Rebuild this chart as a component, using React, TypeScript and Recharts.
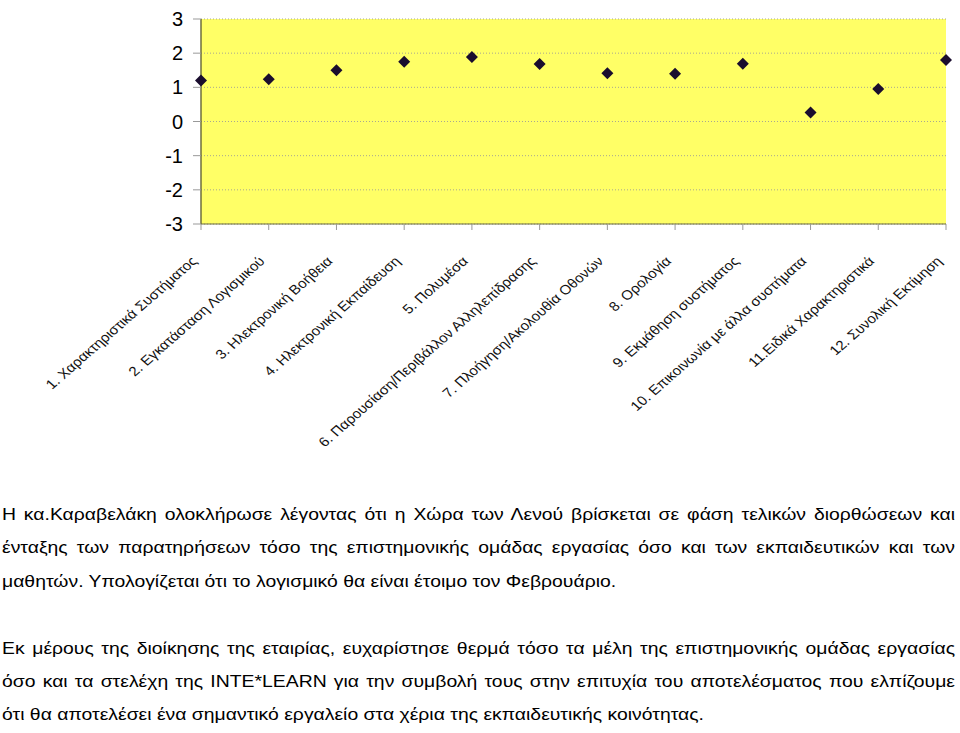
import { LineChart, Line, XAxis, YAxis, CartesianGrid, ReferenceArea } from "recharts";

const categories = [
  "1. Χαρακτηριστικά Συστήματος",
  "2. Εγκατάσταση Λογισμικού",
  "3. Ηλεκτρονική Βοήθεια",
  "4. Ηλεκτρονική Εκπαίδευση",
  "5. Πολυμέσα",
  "6. Παρουσίαση/Περιβάλλον Αλληλεπίδρασης",
  "7. Πλοήγηση/Ακολουθία Οθονών",
  "8. Ορολογία",
  "9. Εκμάθηση συστήματος",
  "10. Επικοινωνία με άλλα συστήματα",
  "11.Ειδικά Χαρακτηριστικά",
  "12. Συνολική Εκτίμηση",
];
const scores = [1.2, 1.24, 1.5, 1.75, 1.89, 1.68, 1.41, 1.4, 1.69, 0.26, 0.95, 1.8];
const yTicks = [-3, -2, -1, 0, 1, 2, 3];

const textLines = [
  "Η κα.Καραβελάκη ολοκλήρωσε λέγοντας ότι η  Χώρα των Λενού βρίσκεται σε φάση τελικών διορθώσεων και",
  "ένταξης των παρατηρήσεων τόσο της επιστημονικής ομάδας εργασίας όσο και των εκπαιδευτικών και των",
  "μαθητών. Υπολογίζεται ότι το λογισμικό θα είναι έτοιμο τον Φεβρουάριο.",
  "",
  "Εκ μέρους της διοίκησης της εταιρίας, ευχαρίστησε θερμά τόσο τα μέλη της επιστημονικής ομάδας εργασίας",
  "όσο και τα στελέχη της INTE*LEARN για την συμβολή τους στην επιτυχία του αποτελέσματος που ελπίζουμε",
  "ότι θα αποτελέσει ένα σημαντικό εργαλείο στα χέρια της εκπαιδευτικής κοινότητας.",
];
// lines that end a paragraph are left ragged
const lastLines = [2, 3, 6];

const data = categories.map((name, i) => ({ name, score: scores[i] }));

const FONT = "'Liberation Sans', Arial, sans-serif";
// the whole picture looks a bit stretched sideways
const STRETCH = 1.14;

function Diamond(props: any) {
  const { cx, cy } = props;
  if (cx == null || cy == null) return null;
  const r = 6;
  return <path d={`M${cx},${cy - r}L${cx + r},${cy}L${cx},${cy + r}L${cx - r},${cy}Z`} fill="#1a0d2e" />;
}

function CategoryTick({ x, y, payload }: any) {
  return (
    <g transform={`translate(${x - 3},${y + 30}) scale(${STRETCH},1) rotate(-45)`}>
      <text textAnchor="end" fontSize={13.3} fill="#111" fontFamily={FONT}>
        {payload.value}
      </text>
    </g>
  );
}

export default function App() {
  return (
    <div style={{ position: "absolute", left: 0, top: 0, width: 960, height: 733, fontFamily: FONT, background: "#fff" }}>
      <LineChart width={960} height={470} data={data} margin={{ top: 19, right: 14, left: 0, bottom: 0 }}>
        <CartesianGrid vertical={false} fill="#FFFF66" fillOpacity={1} stroke="#a8a890" strokeDasharray="1 2" />
        <XAxis
          dataKey="name"
          interval={0}
          height={246}
          tickSize={6}
          tickLine={{ stroke: "#999" }}
          axisLine={{ stroke: "#6e6e3c" }}
          tick={<CategoryTick />}
        />
        <YAxis
          width={201}
          domain={[-3, 3]}
          ticks={yTicks}
          interval={0}
          tickSize={8}
          tickMargin={10}
          tickLine={{ stroke: "#999" }}
          axisLine={{ stroke: "#6e6e3c", strokeWidth: 1.5 }}
          tick={{ fontSize: 20, fill: "#000", fontFamily: FONT }}
        />
        <ReferenceArea
          x1={categories[0]}
          x2={categories[categories.length - 1]}
          y1={-3}
          y2={3}
          fill="none"
          stroke="#6e6e3c"
          strokeWidth={1.5}
        />
        <Line dataKey="score" stroke="none" dot={<Diamond />} isAnimationActive={false} />
      </LineChart>
      <div
        style={{
          position: "absolute",
          left: 2,
          top: 498,
          width: 953 / STRETCH,
          transform: `scaleX(${STRETCH})`,
          transformOrigin: "left top",
          fontSize: 17,
          lineHeight: "33.4px",
          color: "#000",
        }}
      >
        {textLines.map((line, i) => (
          <div
            key={i}
            style={{
              height: "33.4px",
              whiteSpace: lastLines.includes(i) ? "pre" : "normal",
              textAlign: "justify",
              textAlignLast: lastLines.includes(i) ? "left" : "justify",
            }}
          >
            {line}
          </div>
        ))}
      </div>
    </div>
  );
}
